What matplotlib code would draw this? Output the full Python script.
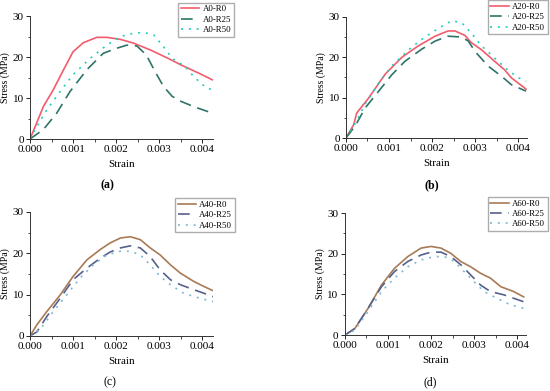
import matplotlib
matplotlib.use('Agg')
import matplotlib.pyplot as plt
from matplotlib.ticker import MultipleLocator

plt.rcParams['font.family'] = ['Liberation Serif', 'DejaVu Serif']
plt.rcParams['font.size'] = 8

# ---- data (strain, stress in MPa) ----
a_r0_x = [0, 0.000155, 0.00031, 0.00054, 0.00078, 0.001, 0.00124, 0.00155, 0.00178, 0.0021, 0.0024, 0.0028, 0.0032, 0.0035, 0.00395, 0.00426]
a_r0_y = [0, 3.9, 7.9, 12.0, 16.9, 21.3, 23.5, 24.8, 24.8, 24.3, 23.4, 21.7, 19.7, 18.1, 15.9, 14.3]
a_r25_x = [0, 0.00031, 0.00062, 0.00093, 0.00132, 0.0017, 0.002, 0.00225, 0.00248, 0.0027, 0.0029, 0.0031, 0.0033, 0.0035, 0.0038, 0.00426]
a_r25_y = [0, 2.3, 6.3, 11.6, 16.9, 20.9, 22.1, 22.9, 22.7, 20.5, 16.5, 12.8, 10.4, 9.2, 7.9, 6.2]
a_r50_x = [0, 0.00016, 0.00039, 0.0007, 0.001, 0.0014, 0.00178, 0.0021, 0.0024, 0.00264, 0.00287, 0.0031, 0.0033, 0.0036, 0.0038, 0.0041, 0.00426]
a_r50_y = [0, 3.1, 7.1, 11.6, 15.7, 19.7, 22.9, 25.0, 25.8, 26.0, 25.4, 22.5, 19.7, 17.7, 15.2, 12.4, 12.0]

b_r0_x = [0, 0.00018, 0.00025, 0.00052, 0.00091, 0.0013, 0.00168, 0.00207, 0.00237, 0.00253, 0.00276, 0.00291, 0.00314, 0.00345, 0.00368, 0.00384, 0.00418]
b_r0_y = [0, 3.3, 6.2, 9.8, 15.8, 20.0, 22.8, 25.2, 26.5, 26.5, 25.4, 23.6, 21.9, 19.0, 16.9, 14.9, 12.1]
b_r25_x = [0, 0.00022, 0.00045, 0.00076, 0.00106, 0.00137, 0.00176, 0.00207, 0.00237, 0.00268, 0.00284, 0.00299, 0.0033, 0.00361, 0.00384, 0.00418]
b_r25_y = [0, 3.1, 7.5, 11.6, 15.6, 19.0, 22.0, 24.0, 25.2, 25.0, 24.0, 21.5, 17.8, 15.3, 13.2, 11.6]
b_r50_x = [0, 0.00022, 0.00045, 0.00076, 0.00106, 0.00145, 0.00183, 0.00222, 0.00245, 0.00268, 0.00291, 0.00314, 0.00345, 0.00376, 0.00399, 0.00418]
b_r50_y = [0, 3.7, 8.5, 13.6, 17.8, 21.8, 25.0, 27.6, 29.0, 28.6, 26.0, 22.9, 19.8, 16.8, 15.0, 14.0]

c_r0_x = [0, 0.00016, 0.00039, 0.0007, 0.001, 0.00132, 0.00163, 0.00186, 0.0021, 0.00233, 0.00256, 0.00279, 0.00302, 0.00326, 0.00349, 0.0038, 0.00403, 0.00426]
c_r0_y = [0, 2.7, 5.9, 9.9, 14.4, 18.4, 20.9, 22.5, 23.7, 24.0, 23.3, 21.3, 19.6, 17.2, 15.2, 13.2, 12.0, 10.9]
c_r25_x = [0, 0.00016, 0.00039, 0.0007, 0.001, 0.00132, 0.00163, 0.00186, 0.0021, 0.00233, 0.00256, 0.00279, 0.00302, 0.00326, 0.00349, 0.0038, 0.00426]
c_r25_y = [0, 1.0, 4.7, 9.1, 13.6, 16.4, 18.8, 20.3, 21.3, 21.8, 21.3, 19.2, 16.0, 13.6, 12.4, 11.2, 9.5]
c_r50_x = [0, 0.00023, 0.00054, 0.00085, 0.00116, 0.00147, 0.00178, 0.0021, 0.00233, 0.00256, 0.00279, 0.00302, 0.00326, 0.00357, 0.00395, 0.00426]
c_r50_y = [0, 1.5, 5.9, 9.9, 14.0, 17.2, 19.6, 20.5, 20.5, 19.6, 17.2, 14.4, 12.4, 10.3, 9.1, 8.3]

d_r0_x = [0, 0.00023, 0.00054, 0.00085, 0.00115, 0.00146, 0.00177, 0.002, 0.00223, 0.00246, 0.00269, 0.00292, 0.00315, 0.00338, 0.00362, 0.00392, 0.00415]
d_r0_y = [0, 1.6, 6.6, 12.3, 16.4, 19.3, 21.4, 21.8, 21.4, 20.1, 18.1, 16.8, 15.2, 14.0, 11.9, 10.7, 9.4]
d_r25_x = [0, 0.00023, 0.00054, 0.00085, 0.00115, 0.00146, 0.00177, 0.002, 0.00223, 0.00246, 0.00269, 0.00292, 0.00315, 0.00338, 0.00369, 0.00415]
d_r25_y = [0, 1.6, 6.6, 11.9, 15.6, 18.1, 19.7, 20.4, 20.4, 19.3, 17.3, 14.8, 12.3, 10.7, 9.9, 8.2]
d_r50_x = [0, 0.00023, 0.00054, 0.00085, 0.00115, 0.00146, 0.00177, 0.00208, 0.00231, 0.00254, 0.00277, 0.003, 0.00323, 0.00354, 0.00385, 0.00415]
d_r50_y = [0, 1.2, 5.8, 10.7, 14.0, 16.8, 18.5, 19.3, 19.3, 18.1, 15.6, 13.1, 10.7, 9.0, 7.4, 6.6]

panels = [
    ('A0', 'a', [(a_r0_x, a_r0_y), (a_r25_x, a_r25_y), (a_r50_x, a_r50_y)]),
    ('A20', 'b', [(b_r0_x, b_r0_y), (b_r25_x, b_r25_y), (b_r50_x, b_r50_y)]),
    ('A40', 'c', [(c_r0_x, c_r0_y), (c_r25_x, c_r25_y), (c_r50_x, c_r50_y)]),
    ('A60', 'd', [(d_r0_x, d_r0_y), (d_r25_x, d_r25_y), (d_r50_x, d_r50_y)]),
]
suffixes = ['R0', 'R25', 'R50']

colors_top = ['#f25c6c', '#2e7468', '#1fcfbc']
colors_bot = ['#a87a55', '#56618c', '#7fb8d2']
styles = ['-', (0, (7, 4)), (0, (1.2, 3.5))]

# axes rects [left, bottom, width, height] in figure fractions
rects = [
    [0.0545, 0.6445, 0.333, 0.3145],
    [0.629, 0.647, 0.329, 0.310],
    [0.0545, 0.1407, 0.333, 0.3173],
    [0.627, 0.143, 0.329, 0.312],
]
legend_pos = [(0.324, 0.993), (0.887, 0.999), (0.318, 0.493), (0.887, 0.496)]
tag_pos = [(0.195, 0.527), (0.786, 0.527), (0.2, 0.022), (0.782, 0.022)]

fig = plt.figure(figsize=(5.5, 3.91), dpi=100)

for i, (name, tag, curves) in enumerate(panels):
    ax = fig.add_axes(rects[i])
    cols = colors_top if i < 2 else colors_bot
    for j, (xs, ys) in enumerate(curves):
        ax.plot(xs, ys, color=cols[j], linestyle=styles[j], lw=1.2,
                label=name + '-' + suffixes[j])
    ax.set_xlim(0, 0.00425 if i % 2 == 0 else 0.0042)
    ax.set_ylim(0, 30)
    ax.xaxis.set_major_locator(MultipleLocator(0.001))
    ax.xaxis.set_minor_locator(MultipleLocator(0.0005))
    ax.yaxis.set_major_locator(MultipleLocator(10))
    ax.yaxis.set_minor_locator(MultipleLocator(5))
    ax.xaxis.set_major_formatter(plt.FuncFormatter(lambda v, p: '%.3f' % v))
    for s in ['top', 'right']:
        ax.spines[s].set_visible(False)
    for s in ['left', 'bottom']:
        ax.spines[s].set_linewidth(0.7)
        ax.spines[s].set_color('#333333')
    ax.tick_params(which='major', direction='out', length=3, width=0.6, pad=1.5, labelsize=8)
    ax.tick_params(which='minor', direction='out', length=1.8, width=0.5)
    ax.set_xlabel('Strain', fontsize=8, labelpad=4)
    ax.set_ylabel('Stress (MPa)', fontsize=7, labelpad=2)
    ax.legend(loc='upper left', bbox_to_anchor=legend_pos[i], bbox_transform=fig.transFigure,
              fontsize=6.3, frameon=True, fancybox=False, edgecolor='#999999',
              handlelength=2.1, handletextpad=0.4, borderpad=0.3, labelspacing=0.25,
              borderaxespad=0)
    fig.text(tag_pos[i][0], tag_pos[i][1], '(' + tag + ')', ha='center', va='center',
             fontsize=8.5, fontweight='bold' if i < 2 else 'normal')

fig.savefig('out.png', dpi=100)
